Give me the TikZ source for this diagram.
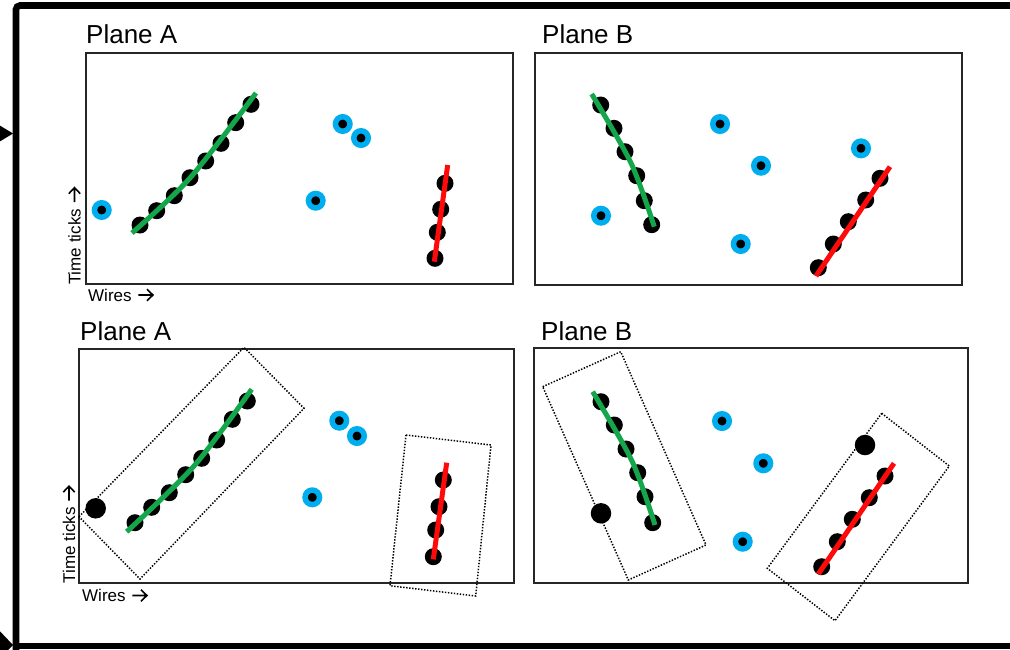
\documentclass[tikz,border=0pt]{standalone}
\usepackage{fontspec}
\setmainfont{Liberation Sans}
\newcommand{\rarrow}{\tikz[baseline=0pt, x=1pt, y=1pt]{\draw[line width=1.6pt, line join=miter] (0,6) -- (14.5,6) (8.5,0.3) -- (14.5,6) -- (8.5,11.7);}}
\definecolor{trackgreen}{HTML}{14A64A}
\definecolor{hitblue}{HTML}{00AEEF}
\definecolor{trackred}{HTML}{FF0A0A}
\begin{document}
\begin{tikzpicture}[x=1pt,y=-1pt,
  frame/.style={line width=6.6pt},
  panel/.style={draw=black!85, line width=1.3pt},
  roi/.style={draw=black, line width=1.5pt, dash pattern=on 1.4pt off 1.6pt},
  hit/.style={circle, fill=black, minimum size=17pt, inner sep=0pt},
  bighit/.style={circle, fill=black, minimum size=20.5pt, inner sep=0pt},
  noise/.style={circle, fill=black, draw=hitblue, line width=5.5pt, minimum size=14.5pt, inner sep=0pt},
  gtrack/.style={trackgreen, line width=5pt},
  rtrack/.style={trackred, line width=5pt},
  title/.style={font=\fontsize{26}{30}\selectfont, anchor=base west, inner sep=0pt},
  axis/.style={font=\fontsize{17}{20}\selectfont, anchor=base west, inner sep=0pt},
]
\useasboundingbox (0,0) rectangle (1010,649);
\clip (0,0) rectangle (1010,649);

% outer frame and the two incoming arrow heads
\draw[frame, rounded corners=4pt] (16,660) -- (16,5.5) -- (1020,5.5);
\draw[frame] (16,646) -- (1020,646);
\fill (-6,122) -- (13,133.5) -- (-6,145) -- cycle;
\fill (-6,625) -- (13,645) -- (-6,665) -- cycle;

% ---------- top row ----------
\draw[panel] (86,53) rectangle (513,284);
\draw[panel] (535,53) rectangle (962,285);

% Plane A, raw hits
\foreach \p [count=\i] in {(101.7,210),(315.7,200.7),(342.7,124),(361,138)}
  \node[noise] (anA\i) at \p {};
\foreach \p [count=\i] in {(140,225),(156.7,210.7),(174.3,195.7),(190,177.7),(205.7,161),(221,143.3),(235.7,122.7),(251,104.3)}
  \node[hit] (agA\i) at \p {};
\foreach \p [count=\i] in {(445,183.3),(440.7,209.3),(437.3,232.3),(435,258.3)}
  \node[hit] (arA\i) at \p {};
\draw[gtrack] plot[smooth] coordinates {(132,233) (190,178) (256,93)};
\draw[rtrack] (434.3,261.7) -- (447.7,165);

% Plane B, raw hits
\foreach \p [count=\i] in {(601,215.7),(720,124),(761,165.7),(740.7,244),(861,148.3)}
  \node[noise] (anB\i) at \p {};
\foreach \p [count=\i] in {(600.7,105),(614,128.3),(625,151.7),(636.7,175.7),(644.3,200.7),(651.7,224.7)}
  \node[hit] (agB\i) at \p {};
\foreach \p [count=\i] in {(880,178.3),(865.7,200),(848.3,221.7),(833.3,244),(818.3,267.7)}
  \node[hit] (arB\i) at \p {};
\draw[gtrack] plot[smooth] coordinates {(591.7,94) (631,163) (654.3,226.7)};
\draw[rtrack] (816,276) -- (890,166.7);

% ---------- bottom row ----------
\draw[panel] (79,349) rectangle (514,583);
\draw[panel] (534,348) rectangle (968,583);

% regions of interest around each track
\draw[roi] (79,516.7) -- (244,347.3) -- (304,408.3) -- (140,579) -- cycle;
\draw[roi] (406,435) -- (491,445) -- (475.7,596) -- (390,585.7) -- cycle;
\draw[roi] (542.7,386.7) -- (620.7,351.7) -- (706,545) -- (628.3,580) -- cycle;
\draw[roi] (881.7,413.3) -- (949.3,466) -- (835,620.7) -- (767.3,568.3) -- cycle;

% Plane A, clustered hits
\node[bighit] (bxA) at (95.7,508.3) {};
\foreach \p [count=\i] in {(312.3,497.3),(339.3,420.7),(357,436)}
  \node[noise] (bnA\i) at \p {};
\foreach \p [count=\i] in {(135,522.7),(151.7,507.3),(169.3,492.7),(185.7,474.7),(201.7,458.3),(216.7,440),(232.3,419.3),(247.3,401)}
  \node[hit] (bgA\i) at \p {};
\foreach \p [count=\i] in {(443.3,480),(439,506.7),(435.7,530),(433.3,556.7)}
  \node[hit] (brA\i) at \p {};
\draw[gtrack] plot[smooth] coordinates {(126.7,531.7) (194,466) (251.7,389.3)};
\draw[rtrack] (433.3,559.3) -- (446.7,462.7);

% Plane B, clustered hits
\node[bighit] (bxB1) at (601,513.3) {};
\node[bighit] (bxB2) at (865,445) {};
\foreach \p [count=\i] in {(722,421),(763.3,463.3),(742.7,541.7)}
  \node[noise] (bnB\i) at \p {};
\foreach \p [count=\i] in {(601,401.7),(614.3,425),(626,449),(637.7,472.7),(645,496.7),(652.7,522.7)}
  \node[hit] (bgB\i) at \p {};
\foreach \p [count=\i] in {(885,476),(869.3,497.7),(852.3,519.3),(837.3,541.7),(821.7,566.7)}
  \node[hit] (brB\i) at \p {};
\draw[gtrack] plot[smooth] coordinates {(592.7,391.7) (632,461) (655,525)};
\draw[rtrack] (818.3,574) -- (894,463.3);

% ---------- labels ----------
\node[title] (tA1) at (86,43) {Plane A};
\node[title] (tB1) at (542,43) {Plane B};
\node[title] (tA2) at (80,340) {Plane A};
\node[title] (tB2) at (541,340) {Plane B};
\node[axis] (w1) at (88,301) {Wires\hspace{6pt}\rarrow};
\node[axis, rotate=90] (t1) at (80.5,285) {Time ticks\hspace{6pt}\rarrow};
\node[axis] (w2) at (82,601.5) {Wires\hspace{6pt}\rarrow};
\node[axis, rotate=90] (t2) at (75,583.5) {Time ticks\hspace{6pt}\rarrow};
\end{tikzpicture}
\end{document}
